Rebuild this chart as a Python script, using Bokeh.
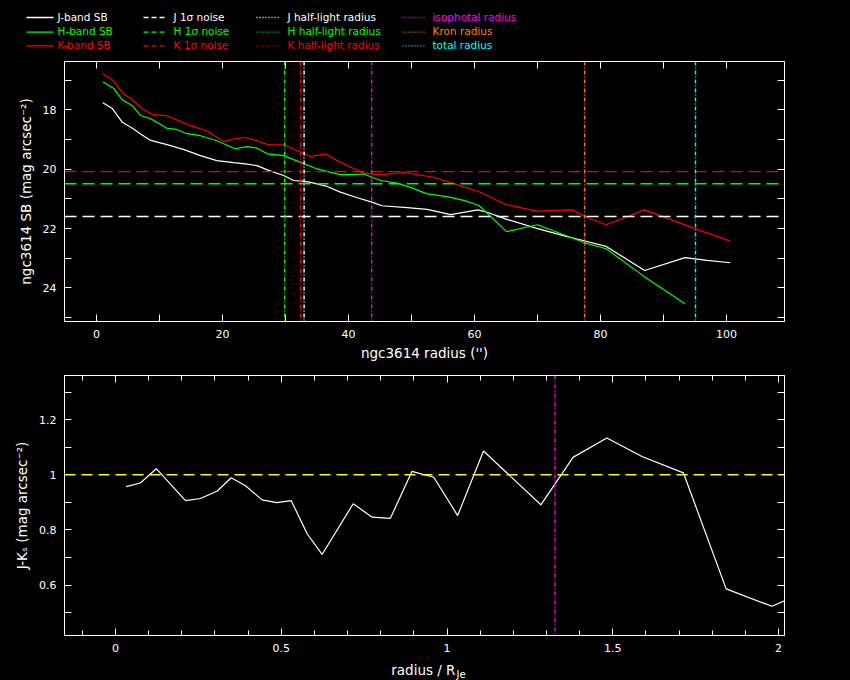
from bokeh.plotting import figure
from bokeh.models import (Range1d, Span, LinearAxis, FixedTicker,
                          CustomJSTickFormatter, GlobalInlineStyleSheet)
from bokeh.layouts import column
from bokeh.embed import file_html
from bokeh.resources import INLINE
from bokeh.core.properties import value

# ---------------- data ----------------
j_radius = [1.0, 2.5, 4.1, 5.7, 7.0, 8.6, 11.2, 13.9, 16.5, 19.1, 21.8, 23.9, 25.5,
            27.3, 29.7, 31.3, 32.9, 34.0, 36.6, 38.7, 41.4, 43.7, 45.3, 49.3, 52.5,
            56.2, 60.5, 62.0, 65.0, 70.0, 74.7, 77.4, 80.9, 87.0, 93.4, 96.9, 100.6]
j_sb = [17.76, 17.95, 18.42, 18.62, 18.81, 19.03, 19.17, 19.34, 19.54, 19.71, 19.78,
        19.83, 19.88, 20.04, 20.21, 20.38, 20.41, 20.44, 20.58, 20.77, 20.96, 21.11,
        21.23, 21.29, 21.35, 21.53, 21.37, 21.45, 21.68, 22.00, 22.27, 22.41, 22.60,
        23.41, 22.98, 23.07, 23.15]

h_radius = [1.0, 2.7, 4.1, 5.7, 7.0, 8.6, 11.2, 12.8, 14.1, 16.5, 19.1, 22.0, 23.9,
            25.5, 27.1, 29.7, 32.4, 35.0, 38.7, 40.8, 42.4, 45.1, 47.7, 49.8, 52.5,
            55.6, 58.3, 60.7, 65.1, 70.0, 74.7, 77.4, 80.9, 86.9, 93.4]
h_sb = [17.05, 17.27, 17.66, 17.86, 18.19, 18.30, 18.62, 18.66, 18.79, 18.87, 19.04,
        19.31, 19.24, 19.29, 19.48, 19.54, 19.77, 19.99, 20.18, 20.18, 20.16, 20.38,
        20.47, 20.61, 20.83, 20.92, 21.05, 21.22, 22.10, 21.87, 22.25, 22.47, 22.68,
        23.61, 24.53]

k_radius = [1.0, 2.5, 4.3, 5.7, 7.3, 8.8, 11.2, 12.8, 14.9, 17.6, 20.2, 21.8, 23.6,
            25.5, 27.3, 29.7, 32.4, 34.0, 36.3, 38.2, 42.2, 45.1, 48.8, 53.5, 57.2,
            60.6, 65.0, 70.0, 71.5, 75.5, 77.6, 80.9, 87.0, 95.0, 100.6]
k_sb = [16.79, 16.98, 17.46, 17.66, 17.97, 18.15, 18.20, 18.34, 18.53, 18.71, 19.07,
        18.98, 18.93, 19.04, 19.18, 19.18, 19.42, 19.57, 19.48, 19.71, 20.12, 20.19,
        20.11, 20.27, 20.52, 20.75, 21.19, 21.42, 21.39, 21.37, 21.60, 21.87, 21.37,
        22.00, 22.42]

noise_j, noise_h, noise_k = 21.59, 20.49, 20.08
half_light_j, half_light_h, half_light_k = 32.95, 29.87, 32.4
isophotal_radius, kron_radius, total_radius = 43.68, 77.47, 95.08

color_radius = [0.032, 0.075, 0.123, 0.211, 0.256, 0.307, 0.349, 0.392, 0.442, 0.487,
                0.530, 0.578, 0.623, 0.717, 0.774, 0.829, 0.894, 0.960, 1.032, 1.110,
                1.283, 1.380, 1.482, 1.588, 1.713, 1.842, 1.980, 2.110]
j_minus_k = [0.957, 0.970, 1.022, 0.906, 0.914, 0.941, 0.989, 0.960, 0.909, 0.899,
             0.906, 0.786, 0.711, 0.895, 0.846, 0.842, 1.012, 0.991, 0.852, 1.086,
             0.891, 1.063, 1.133, 1.066, 1.007, 0.586, 0.523, 0.590]
color_reference = 1.0

top_x_ticks = [0, 20, 40, 60, 80, 100]
top_x_minor = [10, 30, 50, 70, 90]
top_y_ticks = [18, 20, 22, 24]
top_y_minor = [17, 19, 21, 23, 25]
bot_x_ticks = [0, 0.5, 1, 1.5, 2]
bot_x_minor = [-0.1, 0.1, 0.2, 0.3, 0.4, 0.6, 0.7, 0.8, 0.9, 1.1, 1.2, 1.3, 1.4,
               1.6, 1.7, 1.8, 1.9]
bot_y_ticks = [0.6, 0.8, 1.0, 1.2]
bot_y_minor = [0.5, 0.7, 0.9, 1.1, 1.3]

legend_labels = [["J-band SB", "H-band SB", "K-band SB"],
                 ["J 1\u03c3 noise", "H 1\u03c3 noise", "K 1\u03c3 noise"],
                 ["J half-light radius", "H half-light radius", "K half-light radius"],
                 ["isophotal radius", "Kron radius", "total radius"]]
legend_colors = [["#ffffff", "#00ff00", "#ff0000"],
                 ["#ffffff", "#00ff00", "#ff0000"],
                 ["#ffffff", "#00ff00", "#ff0000"],
                 ["#ff00ff", "#ff8000", "#00ffff"]]

# ---------------- styling ----------------
FONT = "DejaVu Sans"
W = 850
WHITE, GREEN, RED = "#ffffff", "#00ff00", "#ff0000"
MAGENTA, ORANGE, CYAN, YELLOW = "#ff00ff", "#ff8000", "#00ffff", "#ffff00"
DASH = "12 6"
DASHDOT = "4 2 1 2"

fmt = CustomJSTickFormatter(code="return Number(tick.toFixed(2)).toString();")
blank_fmt = CustomJSTickFormatter(code="return '';")


def style_axis(ax, ticks, minor, labels=True, minor_len=7):
    ax.ticker = FixedTicker(ticks=ticks, minor_ticks=minor)
    ax.formatter = fmt if labels else blank_fmt
    ax.axis_line_color = WHITE
    ax.major_tick_line_color = WHITE
    ax.minor_tick_line_color = WHITE
    ax.major_tick_in = 7
    ax.major_tick_out = 0
    ax.minor_tick_in = minor_len
    ax.minor_tick_out = 0
    ax.major_label_text_color = WHITE
    ax.major_label_text_font = FONT
    ax.major_label_text_font_size = "11px"
    ax.major_label_standoff = 8 if labels else 0
    ax.axis_label_text_color = WHITE
    ax.axis_label_text_font = FONT
    ax.axis_label_text_font_size = "13.5px"
    ax.axis_label_text_font_style = "normal"
    ax.axis_label_standoff = 6


def make_fig(height, xr, yr, bl, br, bt, bb):
    p = figure(width=W, height=height, x_range=xr, y_range=yr,
               toolbar_location=None, output_backend="svg",
               background_fill_color="black", border_fill_color="black",
               outline_line_color=WHITE, min_border_left=bl, min_border_right=br,
               min_border_top=bt, min_border_bottom=bb)
    p.grid.visible = False
    return p


def make_strip(height):
    # a plain pixel-coordinate strip (legend / bottom axis title)
    s = figure(width=W, height=height, x_range=Range1d(0, W), y_range=Range1d(height, 0),
               toolbar_location=None, output_backend="svg",
               x_axis_location=None, y_axis_location=None,
               background_fill_color="black", border_fill_color="black",
               outline_line_color=None, min_border=0)
    s.frame_align = False
    s.grid.visible = False
    return s


# ---------------- legend strip ----------------
leg = make_strip(53)
col_line_x0 = [26, 143, 256, 402]
col_line_len = [27, 23, 24, 24]
col_text_x = [57, 173, 287, 432]
row_y = [16, 30.7, 44.4]
col_dash = ["solid", "5 3", "1 2", "1 2"]
tx, ty, tt, tc = [], [], [], []
for c in range(4):
    for r in range(3):
        leg.line([col_line_x0[c], col_line_x0[c] + col_line_len[c]], [row_y[r] + 1, row_y[r] + 1],
                 line_color=legend_colors[c][r], line_width=1.3, line_dash=col_dash[c])
        tx.append(col_text_x[c])
        ty.append(row_y[r])
        tt.append(legend_labels[c][r])
        tc.append(legend_colors[c][r])
leg.text(x=tx, y=ty, text=tt, text_color=tc, text_font=value(FONT),
         text_font_size=value("10.5px"), text_baseline="middle", text_align="left")

# ---------------- top panel: surface brightness ----------------
top = make_fig(311, Range1d(-5.08, 109.2), Range1d(25.13, 16.37), 64, 66, 8, 43)
style_axis(top.xaxis[0], top_x_ticks, top_x_minor)
style_axis(top.yaxis[0], top_y_ticks, top_y_minor)
top.xaxis[0].axis_label = "ngc3614 radius ('')"
top.xaxis[0].axis_label_standoff = 4
top.yaxis[0].axis_label = "ngc3614 SB (mag arcsec\u207b\u00b2)"
ax_t = LinearAxis()
style_axis(ax_t, top_x_ticks, top_x_minor, labels=False)
top.add_layout(ax_t, "above")
ax_r = LinearAxis()
style_axis(ax_r, top_y_ticks, top_y_minor, labels=False)
top.add_layout(ax_r, "right")

for loc, col in [(noise_k, RED), (noise_h, GREEN), (noise_j, WHITE)]:
    top.add_layout(Span(location=loc, dimension="width", line_color=col,
                        line_width=1.4, line_dash=DASH))
for loc, col in [(half_light_h, GREEN), (half_light_k, RED), (half_light_j, WHITE),
                 (isophotal_radius, MAGENTA), (kron_radius, ORANGE), (total_radius, CYAN)]:
    top.add_layout(Span(location=loc, dimension="height", line_color=col,
                        line_width=1.4, line_dash=DASHDOT))

top.line(j_radius, j_sb, line_color=WHITE, line_width=1.2)
top.line(h_radius, h_sb, line_color=GREEN, line_width=1.2)
top.line(k_radius, k_sb, line_color=RED, line_width=1.2)

# ---------------- bottom panel: colour ----------------
bot = make_fig(294, Range1d(-0.154, 2.018), Range1d(0.417, 1.36), 64, 66, 11, 23)
style_axis(bot.xaxis[0], bot_x_ticks, bot_x_minor, minor_len=5)
style_axis(bot.yaxis[0], bot_y_ticks, bot_y_minor)
bot.yaxis[0].axis_label = "J-K\u209b (mag arcsec\u207b\u00b2)"
ax_t2 = LinearAxis()
style_axis(ax_t2, bot_x_ticks, bot_x_minor, labels=False, minor_len=5)
bot.add_layout(ax_t2, "above")
ax_r2 = LinearAxis()
style_axis(ax_r2, bot_y_ticks, bot_y_minor, labels=False)
bot.add_layout(ax_r2, "right")

bot.add_layout(Span(location=color_reference, dimension="width", line_color=YELLOW,
                    line_width=1.4, line_dash="11 6"))
bot.add_layout(Span(location=isophotal_radius / half_light_j, dimension="height",
                    line_color=MAGENTA, line_width=1.4, line_dash=DASHDOT))
bot.line(color_radius, j_minus_k, line_color=WHITE, line_width=1.2)

# ---------------- bottom axis title (with subscript) ----------------
xt = make_strip(22)
xt.text(x=[455], y=[11], text=["radius / R"], text_color=WHITE, text_font=value(FONT),
        text_font_size=value("13.5px"), text_align="right", text_baseline="alphabetic")
xt.text(x=[456], y=[15.5], text=["Je"], text_color=WHITE, text_font=value(FONT),
        text_font_size=value("10px"), text_align="left", text_baseline="alphabetic")

page = column(leg, top, bot, xt, spacing=0,
              stylesheets=[GlobalInlineStyleSheet(css="html, body { background: #000000; margin: 0; }")])

open("out.html", "w").write(file_html(page, INLINE, title="ngc3614"))
